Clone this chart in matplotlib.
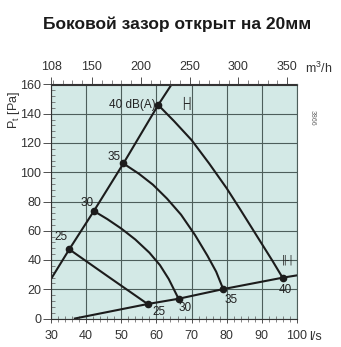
import numpy as np
import matplotlib
matplotlib.use("Agg")
import matplotlib.pyplot as plt
from matplotlib.ticker import MultipleLocator, FixedLocator

plt.rcParams['font.family'] = ['Liberation Sans', 'DejaVu Sans']
plt.rcParams['mathtext.fontset'] = 'custom'
plt.rcParams['mathtext.rm'] = 'Liberation Sans'
plt.rcParams['mathtext.it'] = 'Liberation Sans'

# system lines (l/s vs Pa)
sys_hi_x = [30, 35.2, 42.2, 50.6, 60.5, 64.3]
sys_hi_y = [27, 47.3, 73.5, 106, 146, 160]
sys_lo_x = [36.8, 57.5, 66.3, 79.0, 95.9, 100]
sys_lo_y = [0, 9.9, 13.5, 20.1, 27.9, 29.5]

# constant sound level curves, dB(A)
levels = ["25", "30", "35", "40"]
curve_x = [
    [35.2, 46.3, 57.5],
    [42.2, 46, 50, 54, 58, 61, 63.5, 66.3],
    [50.6, 55, 59, 63, 67, 71, 74.5, 77, 79.0],
    [60.5, 65, 70, 75, 80, 84, 87, 90, 93, 95.9],
]
curve_y = [
    [47.3, 28.6, 9.9],
    [73.5, 68, 61.5, 54, 45, 36.5, 27, 13.5],
    [106, 99, 91.5, 82, 71, 57, 43, 32, 20.1],
    [146, 135, 122, 106, 89, 74, 62.5, 51, 39.5, 27.9],
]
hi_labels = ["25", "30", "35", "40 dB(A)"]

fig = plt.figure(figsize=(3.41, 3.47), dpi=100)
ax = fig.add_axes([51/341, 1-318.5/347, 246/341, 234/347])
ax.set_facecolor('#d3e9e6')

ax.set_xlim(30, 100)
ax.set_ylim(0, 160)

grid_c = '#4d5e5b'
ax.xaxis.set_major_locator(MultipleLocator(10))
ax.xaxis.set_minor_locator(MultipleLocator(2))
ax.yaxis.set_major_locator(MultipleLocator(20))
ax.yaxis.set_minor_locator(MultipleLocator(4))
ax.grid(True, which='major', color=grid_c, lw=0.8)
ax.set_axisbelow(True)

ax.tick_params(axis='x', which='major', direction='out', length=3, width=0.6,
               labelsize=9, pad=5, colors='#333333')
ax.tick_params(axis='x', which='minor', direction='inout', length=4, width=0.5,
               colors='#555555')
ax.tick_params(axis='y', which='major', direction='out', length=6, width=0.6,
               labelsize=9, pad=1, colors='#333333')
ax.tick_params(axis='y', which='minor', direction='in', length=3, width=0.5,
               colors='#555555')

for s in ['left', 'bottom', 'top']:
    ax.spines[s].set_color('#333333')
    ax.spines[s].set_linewidth(0.8)
ax.spines['right'].set_color(grid_c)
ax.spines['right'].set_linewidth(0.8)

top = ax.secondary_xaxis('top', functions=(lambda v: v*3.6, lambda v: v/3.6))
top.xaxis.set_major_locator(FixedLocator([108, 150, 200, 250, 300, 350]))
top.xaxis.set_minor_locator(FixedLocator(np.arange(110, 360, 10)))
top.tick_params(which='major', direction='out', length=5, width=0.6,
                labelsize=9, pad=3, colors='#333333')
top.tick_params(which='minor', direction='out', length=3, width=0.5,
                colors='#555555')
top.spines['top'].set_color('#333333')

line_c = '#1c1c1c'
ax.plot(sys_hi_x, sys_hi_y, color=line_c, lw=1.5)
ax.plot(sys_lo_x, sys_lo_y, color=line_c, lw=1.5)
for cx, cy in zip(curve_x, curve_y):
    ax.plot(cx, cy, color=line_c, lw=1.5)
    ax.plot([cx[0], cx[-1]], [cy[0], cy[-1]], 'o', color=line_c, ms=4.5)

# labels at the upper and lower ends of each curve
hi_off = [(-6, 9), (-5, 6), (-7, 5), (-2, 0)]
lo_off = [(8, -6), (5, -7), (6, -8), (2, -9)]
for i, lab in enumerate(hi_labels):
    ha = 'right' if i == 3 else 'center'
    ax.annotate(lab, (curve_x[i][0], curve_y[i][0]), xytext=hi_off[i],
                textcoords='offset points', ha=ha, va='center', fontsize=8.5,
                color='#222222')
for i, lab in enumerate(levels):
    ax.annotate(lab, (curve_x[i][-1], curve_y[i][-1]), xytext=lo_off[i],
                textcoords='offset points', ha='center', va='center',
                fontsize=8.5, color='#222222')

ax.text(68.6, 147.3, "├┤", family='DejaVu Sans', fontsize=8,
        ha='center', va='center', color='#222222')
ax.text(97.3, 40, "‖-|", family='DejaVu Sans', fontsize=7,
        ha='center', va='center', color='#222222')

fig.text(177/341, 1-24/347, "Боковой зазор открыт на 20мм", fontsize=12.5,
         fontweight='bold', ha='center', va='center', color='#1a1a1a')
fig.text(305/341, 1-68/347, "m$^3$/h", fontsize=9, ha='left', va='center',
         color='#333333')
fig.text(309/341, 1-337/347, "l/s", fontsize=9, ha='left', va='center',
         color='#333333')
fig.text(14/341, 1-110/347, "P$_{\\mathrm{t}}$ [Pa]", fontsize=9, rotation=90,
         ha='center', va='center', color='#333333')
fig.text(312/341, 1-118/347, "3866", fontsize=5, rotation=270,
         ha='center', va='center', color='#666666')

fig.savefig("out.png", dpi=100)
